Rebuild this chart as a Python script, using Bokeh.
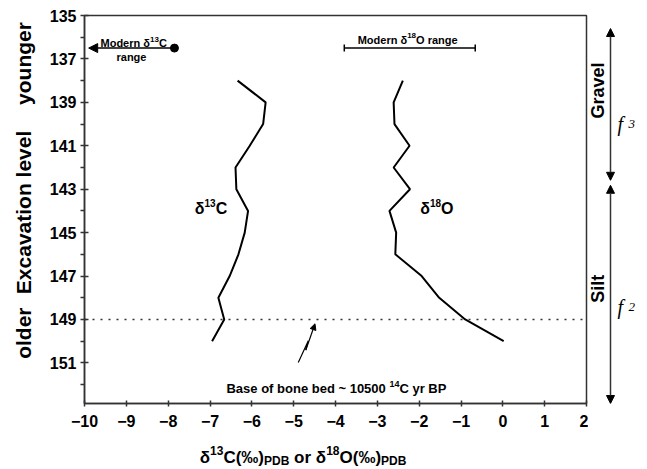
import math
from bokeh.plotting import figure
from bokeh.layouts import row, column
from bokeh.models import (Range1d, FixedTicker, Label, Span, Arrow, NormalHead, TeeHead)
from bokeh.embed import file_html
from bokeh.resources import INLINE

# ---------------- data ----------------
levels = [138, 139, 140, 141, 142, 143, 144, 145, 146, 147, 148, 149, 150]
d13C = [-6.34, -5.67, -5.73, -6.05, -6.39, -6.37, -6.09, -6.17, -6.32, -6.53, -6.80, -6.66, -6.95]
d18O = [-2.39, -2.61, -2.59, -2.23, -2.61, -2.22, -2.71, -2.55, -2.57, -1.94, -1.52, -0.90, 0.02]

x_ticks = [-10, -9, -8, -7, -6, -5, -4, -3, -2, -1, 0, 1, 2]
y_ticks = [135, 137, 139, 141, 143, 145, 147, 149, 151]
y_minor = [136, 138, 140, 142, 144, 146, 148, 150, 152]

modern_d13C = [-7.85, -9.9]      # dot -> arrow tip
modern_d18O = [-3.79, -0.66]     # range bar
modern_level = 136.5
bone_bed_level = 149
gravel_span = [135.6, 142.59]
silt_span = [142.82, 152.87]

FONT = "Liberation Sans"
W = {' ': 278, '%': 889, '(': 333, ')': 333, '-': 333, '~': 584, '‰': 1000, 'δ': 611,
     'A': 722, 'B': 722, 'C': 722, 'D': 722, 'E': 667, 'G': 778, 'M': 833, 'O': 778, 'P': 667, 'S': 667,
     'a': 556, 'b': 611, 'c': 556, 'd': 611, 'e': 556, 'f': 333, 'g': 611, 'i': 278, 'l': 278,
     'n': 611, 'o': 611, 'r': 389, 's': 556, 't': 333, 'v': 556, 'y': 556}
for d in "0123456789":
    W[d] = 556


def tw(s, size):
    return sum(W.get(c, 600) for c in s) / 1000.0 * size


TOP = 15
BOT = 32
MAIN_H = 435
LEFT_W = 46
MAIN_W = 542
RIGHT_W = 58
BOTTOM_H = 33
TOTAL_W = LEFT_W + MAIN_W + RIGHT_W

xr = Range1d(-10, 2)
yr = Range1d(152.87, 135)


def blank(width, height, x_range, y_range, **kw):
    f = figure(width=width, height=height, output_backend="svg", toolbar_location=None,
               x_range=x_range, y_range=y_range, x_axis_type=None, y_axis_type=None, **kw)
    f.xgrid.visible = False
    f.ygrid.visible = False
    f.outline_line_color = None
    f.background_fill_color = "white"
    f.border_fill_color = "white"
    return f


p = figure(width=MAIN_W, height=MAIN_H, output_backend="svg", toolbar_location=None,
           x_range=xr, y_range=yr,
           min_border_left=83 - LEFT_W, min_border_right=2, min_border_top=TOP, min_border_bottom=BOT)
p.xgrid.visible = False
p.ygrid.visible = False
p.outline_line_color = "#333333"
p.outline_line_width = 1.5
p.background_fill_color = "white"
p.border_fill_color = "white"

for ax in (p.xaxis[0], p.yaxis[0]):
    ax.axis_line_color = "#333333"
    ax.axis_line_width = 1.5
    ax.major_tick_line_color = "#333333"
    ax.major_tick_line_width = 1.5
    ax.minor_tick_line_color = "#333333"
    ax.minor_tick_line_width = 1.5
    ax.major_label_text_font = FONT
    ax.major_label_text_font_style = "bold"
    ax.major_label_text_font_size = "16px"
    ax.major_label_text_color = "black"

p.xaxis.ticker = FixedTicker(ticks=x_ticks)
p.xaxis.major_tick_in = 3
p.xaxis.major_tick_out = 3
p.xaxis.minor_tick_in = 0
p.xaxis.minor_tick_out = 0
p.xaxis.major_label_standoff = 8

p.yaxis.ticker = FixedTicker(ticks=y_ticks, minor_ticks=y_minor)
p.yaxis.major_tick_in = 4
p.yaxis.major_tick_out = 4
p.yaxis.minor_tick_in = 0
p.yaxis.minor_tick_out = 4
p.yaxis.major_label_standoff = 4

# data lines
p.line(d13C, levels, line_color="black", line_width=2)
p.line(d18O, levels, line_color="black", line_width=2)

# base of bone bed
p.add_layout(Span(location=bone_bed_level, dimension="width", line_color="#333333",
                  line_width=1.5, line_dash="2 6"))


def rich(fig, x, y, runs, align="left", color="black"):
    total = sum(tw(t, s) for t, s, dy in runs)
    off = 0 if align == "left" else -total / 2
    for t, s, dy in runs:
        lead = len(t) - len(t.lstrip(" "))
        core = t.strip(" ")
        off += tw(" " * lead, s)
        if core:
            fig.add_layout(Label(x=x, y=y, x_offset=off, y_offset=dy, text=core,
                                 text_font_size=f"{s}px", text_font=FONT, text_font_style="bold",
                                 text_align="left", text_baseline="alphabetic", text_color=color))
        off += tw(t.lstrip(" "), s)


# modern d13C range
p.scatter([modern_d13C[0]], [modern_level], size=8, color="black")
p.add_layout(Arrow(x_start=modern_d13C[0], y_start=modern_level, x_end=modern_d13C[1], y_end=modern_level,
                   line_width=1.5, line_color="black",
                   end=NormalHead(size=9, fill_color="black", line_color="black")))
rich(p, -9.617, 136.27, [("Modern δ", 11, 0), ("13", 8, 4), ("C", 11, 0)])
rich(p, -8.877, 136.89, [("range", 11, 0)], align="center")

# modern d18O range
p.add_layout(Arrow(x_start=modern_d18O[0], y_start=modern_level, x_end=modern_d18O[1], y_end=modern_level,
                   line_width=1.5, line_color="black",
                   start=TeeHead(size=7, line_width=1.5, line_color="black"),
                   end=TeeHead(size=7, line_width=1.5, line_color="black")))
rich(p, -3.47, 136.12, [("Modern δ", 11, 0), ("18", 8, 4), ("O range", 11, 0)])

# series labels
rich(p, -7.365, 143.9, [("δ", 16, 0), ("13", 10, 6), ("C", 16, 0)])
rich(p, -1.976, 143.9, [("δ", 16, 0), ("18", 10, 6), ("O", 16, 0)])

# lightning arrow
p.line([-4.89, -4.65, -4.71], [150.98, 149.98, 150.41], line_color="black", line_width=1.2)
p.add_layout(Arrow(x_start=-4.71, y_start=150.41, x_end=-4.49, y_end=149.2, line_width=1.2,
                   line_color="black", end=NormalHead(size=6, fill_color="black", line_color="black")))
rich(p, -6.606, 152.18, [("Base of bone bed ~ 10500 ", 13, 0), ("14", 9, 5), ("C yr BP", 13, 0)])

# ---------- left panel: y axis titles ----------
left = blank(LEFT_W, MAIN_H, Range1d(0, LEFT_W), yr,
             min_border_left=0, min_border_right=0, min_border_top=TOP, min_border_bottom=BOT)
for txt, yy in (("younger", 137.21), ("Excavation level", 144.07), ("older", 149.63)):
    left.add_layout(Label(x=23, y=yy, text=txt, angle=math.pi / 2, text_align="center",
                          text_baseline="middle", text_font=FONT, text_font_style="bold",
                          text_font_size="21px", text_color="black"))

# ---------- right panel: sediment units ----------
right = blank(RIGHT_W, MAIN_H, Range1d(0, RIGHT_W), yr,
              min_border_left=0, min_border_right=0, min_border_top=TOP, min_border_bottom=BOT)
for txt, yy in (("Gravel", 138.45), ("Silt", 147.58)):
    right.add_layout(Label(x=9.5, y=yy, text=txt, angle=math.pi / 2, text_align="center",
                           text_baseline="middle", text_font=FONT, text_font_style="bold",
                           text_font_size="18px", text_color="black"))
for span in (gravel_span, silt_span):
    right.add_layout(Arrow(x_start=22, y_start=span[0], x_end=22, y_end=span[1],
                           line_width=1.5, line_color="#333333",
                           start=NormalHead(size=8, fill_color="black", line_color="black"),
                           end=NormalHead(size=8, fill_color="black", line_color="black")))
for sub, yy in (("3", 139.98), ("2", 148.42)):
    right.add_layout(Label(x=29, y=yy, text="f", text_font="Liberation Serif", text_font_style="italic",
                           text_font_size="20px", text_baseline="alphabetic", text_align="left",
                           text_color="black"))
    right.add_layout(Label(x=40, y=yy, text=sub, text_font="Liberation Serif", text_font_style="italic",
                           text_font_size="13px", text_baseline="alphabetic", text_align="left",
                           text_color="black"))

# ---------- bottom panel: x axis title ----------
bottom = blank(TOTAL_W, BOTTOM_H, xr, Range1d(0, BOTTOM_H),
               min_border_left=83, min_border_right=TOTAL_W - LEFT_W - MAIN_W + 2,
               min_border_top=0, min_border_bottom=0)
rich(bottom, -7.229, 11.3, [("δ", 17, 0), ("13", 12, 7), ("C(‰)", 17, 0), ("PDB", 12, -4),
                            (" or ", 17, 0), ("δ", 17, 0), ("18", 12, 7), ("O(‰)", 17, 0), ("PDB", 12, -4)])

layout = column(row(left, p, right, spacing=0), bottom, spacing=0)
open("out.html", "w").write(file_html(layout, INLINE))
